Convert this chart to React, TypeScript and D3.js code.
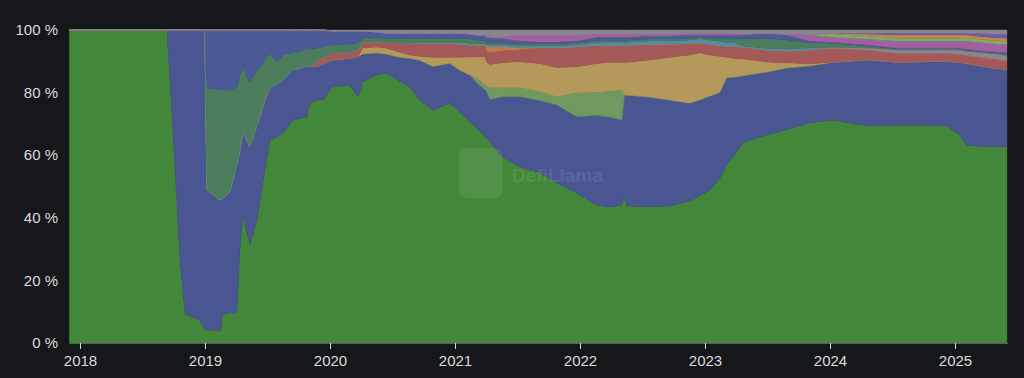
import React from "react";
import * as d3 from "d3";

const dates = [
  "2017-12-01","2018-09-12","2018-10-05","2018-10-20","2018-11-04","2018-12-17","2019-01-01","2019-01-07",
  "2019-02-14","2019-02-23","2019-03-15","2019-04-04","2019-04-13","2019-04-22","2019-05-12","2019-06-02",
  "2019-06-25","2019-07-10","2019-07-30","2019-08-17","2019-09-15","2019-10-26","2019-11-04","2019-11-24",
  "2019-12-12","2020-01-07","2020-02-28","2020-03-23","2020-04-06","2020-05-17","2020-06-15","2020-07-23",
  "2020-08-22","2020-09-20","2020-10-28","2020-12-16","2021-01-15","2021-02-13","2021-03-05","2021-03-29",
  "2021-04-03","2021-04-12","2021-05-20","2021-07-09","2021-09-05","2021-10-25","2021-12-22","2022-02-19",
  "2022-03-29","2022-05-03","2022-05-11","2022-05-17","2022-07-23","2022-09-20","2022-11-17","2022-12-16",
  "2023-01-15","2023-02-13","2023-03-05","2023-03-23","2023-04-21","2023-06-30","2023-08-27","2023-11-03",
  "2024-01-09","2024-04-17","2024-07-22","2024-10-27","2024-12-07","2025-01-14","2025-02-03","2025-04-11",
  "2025-06-01",
];

const green = [100,100,57.5,26.5,9.3,7.3,4.2,4.2,3.8,9.3,9.6,9.6,29.7,40.9,31.3,39.3,55.3,64.9,65.8,67.1,71.2,72.2,76.7,77.6,77.6,81.8,82.4,78.6,83.4,85.6,86.3,83.7,81.8,77.6,74.4,76.7,73.8,70.6,68.7,65.8,65.5,63.9,59.4,56.2,54.3,51.1,47.9,44.1,43.5,44.1,47.3,43.8,43.5,43.8,45.4,47.0,48.9,52.7,56.9,59.4,63.9,66.5,68.1,70.3,71.2,69.3,69.6,69.6,69.3,66.5,63.3,62.9,62.6];
const blue = [0,0,42.5,73.5,90.7,92.7,95.8,44.7,41.9,37.1,38.7,47.9,31.9,27.2,31.3,30.4,22.4,16.6,16.9,16.9,16.0,16.3,11.8,10.9,11.5,8.6,8.6,12.8,8.9,7.0,6.1,7.7,9.3,12.8,14.1,12.8,13.4,15.0,14.4,15.0,14.7,13.7,19.2,22.4,23.0,24.9,24.3,28.8,28.8,27.2,31.9,35.5,35.1,33.9,31.3,30.7,30.0,27.5,28.1,25.6,21.4,20.1,19.8,18.2,18.5,21.1,20.1,20.4,20.8,23.3,26.2,25.6,24.6];
const lightGreen = [0,0,0,0,0,0,0,0,0,0,0,0,0,0,0,0,0,0,0,0,0,0,0,0,0,0,0,0,0,0,0,0,0,0,0,0,0,0,1.6,1.6,1.9,3.8,2.9,2.9,2.9,2.6,7.7,7.3,8.3,9.6,0,0,0,0,0,0,0,0,0,0,0,0,0,0,0,0,0,0,0,0,0,0,0];
const yellow = [0,0,0,0,0,0,0,0,0,0,0,0,0,0,0,0,0,0,0,0,0,0,0,0,0,0,0,0,1.9,1.9,1.9,1.6,1.0,1.3,2.9,1.9,4.2,5.8,6.7,8.9,7.7,7.3,8.0,8.3,8.9,9.3,8.3,9.3,9.3,8.9,10.5,10.5,11.8,13.7,15.3,15.0,13.1,11.5,6.4,6.1,5.4,3.2,1.6,0.6,0,0,0,0,0,0,0,0,0];
const red = [0,0,0,0,0,0,0,0,0,0,0,0,0,0,0,0,0,0,0,0,0,0,0,1.6,1.9,2.2,1.9,2.2,1.9,1.6,1.9,2.9,3.8,4.2,4.5,4.5,4.2,3.8,3.8,3.8,3.2,3.8,3.8,3.8,5.1,6.4,6.4,5.8,5.4,5.4,5.4,5.4,5.1,4.2,3.8,3.2,3.5,3.5,3.5,3.8,3.8,3.8,3.8,4.5,4.5,3.2,2.9,2.6,2.6,2.6,2.6,2.9,2.9];
const orange = [0,0,0,0,0,0,0,0,0,0,0,0,0,0,0,0,0,0,0,0,0,0,0,0,0,0,0,0,0,0,0,0,0,0,0,0,0,0,0,0,1.6,1.9,1.3,0.6,0,0,0,0,0,0,0,0,0,0,0,0,0,0,0,0,0,0,0,0,0,0,0,0,0,0,0,0,0];
const misc = [0,0,0,0,0,0,0,0,0,0,0,0,0,0,0,0,0,0,0,0,0,0,0,0,0,0,0,0,0,0,0,0,0,0,0,0,0,0,0,0,0,0,0,0,0,0,0,0,0,0,0,0,0,0,0,0,0,0,0,0,0,0,0,0,0.3,0.6,1.0,1.0,1.0,1.3,1.3,1.6,1.6];
const teal = [0,0,0,0,0,0,0,0,0,0,0,0,0,0,0,0,0,0,0,0,0,0,0,0,0,0,0,0,0,0,0,0,0,0.3,0.3,0.3,0.6,0.6,0.6,0.3,0.6,0.6,0.6,0.6,0.6,0.6,0.6,1.0,1.0,1.0,1.0,1.0,1.0,1.0,1.0,1.3,1.3,1.3,1.3,1.3,0.3,0.6,0.6,0.6,0,0,0,0,0,0,0,0,0];
const sage = [0,0,0,0,0,0,0,32.6,35.1,34.5,32.6,24.3,24.0,20.1,20.4,17.6,12.8,11.2,7.0,8.0,5.4,5.4,5.4,4.2,3.5,2.6,2.6,2.2,1.3,1.3,1.3,1.6,1.6,1.3,1.3,1.3,1.3,1.3,1.0,1.0,0.6,0.6,0.6,0.6,0.6,0.6,0.6,0.6,0.6,0.6,0.6,0.6,0.6,0.6,0.6,0.6,0.6,1.0,1.3,1.3,2.2,3.2,2.9,1.6,1.3,0.6,0.3,0.3,0.3,0.3,0.3,0.3,0.6];
const blue2 = [0,0,0,0,0,0,0,18.5,19.2,19.2,19.2,18.2,14.4,11.8,16.9,12.8,9.6,7.3,10.2,8.0,7.3,6.1,6.1,5.8,5.4,4.5,4.2,3.8,2.2,1.9,1.6,1.6,1.6,1.6,1.6,1.6,1.6,1.6,1.6,1.6,1.6,1.6,1.3,1.0,0.6,0.6,0.6,1.0,1.0,1.0,1.0,1.0,1.0,1.0,1.0,0.6,1.0,1.0,1.0,1.0,1.3,1.6,1.6,0.6,0.3,0.3,0.3,0.3,0.3,0.3,0.3,0.3,0.3];
const pink = [0,0,0,0,0,0,0,0,0,0,0,0,0,0,0,0,0,0,0,0,0,0,0,0,0,0,0,0,0,0,0,0,0,0,0,0,0,0,0,0.3,0.6,0.3,0.6,1.9,2.2,2.2,1.9,1.0,1.0,1.0,1.0,1.0,0.6,0.6,0.6,0.6,0.6,0.6,0.6,0.6,0.3,0,0.3,1.9,1.6,1.9,2.2,2.2,2.2,2.2,2.6,2.6,2.6];
const lightGreen2 = [0,0,0,0,0,0,0,0,0,0,0,0,0,0,0,0,0,0,0,0,0,0,0,0,0,0,0,0,0,0,0,0,0,0,0,0,0,0,0,0,0,0,0,0,0,0,0,0,0,0,0,0,0,0,0,0,0,0,0,0,0,0,0,0.3,1.0,1.0,1.0,1.0,1.0,1.0,1.0,1.0,1.0];
const amber = [0,0,0,0,0,0,0,0,0,0,0,0,0,0,0,0,0,0,0,0,0,0,0,0,0,0,0,0,0,0,0,0,0,0,0,0,0,0,0,0,0,0,0,0,0,0,0,0,0,0,0,0,0,0,0,0,0,0,0,0,0,0,0,0,0.3,0.6,1.0,1.0,1.0,1.0,1.0,1.0,1.0];
const violet = [0,0,0,0,0,0,0,0,0,0,0,0,0,0,0,0,0,0,0,0,0,0,0,0,0,0,0,0,0,0,0,0,0,0,0,0,0,0,0,0,0,0,0,0,0,0,0,0,0,0,0,0,0,0,0,0,0,0,0,0,0,0,0,0,0,0.3,0.6,0.6,0.6,0.6,0.6,1.0,1.3];
const others = [0,0,0,0,0,0,0,0,0,0,0,0,0,0,0,0,0,0,0,0,0,0,0,0,0,0.3,0.3,0.3,0.3,0.6,1.0,1.0,1.0,1.0,1.0,1.0,1.0,1.3,1.6,1.6,1.9,2.2,2.2,1.6,1.6,1.6,1.6,1.3,1.3,1.3,1.3,1.3,1.3,1.3,1.0,1.0,1.0,1.0,1.0,1.0,1.3,1.0,1.3,1.3,1.0,1.0,1.0,1.0,1.0,1.0,1.0,1.3,1.3];

const seriesNames = ["green","blue","lightGreen","yellow","red","orange","misc","teal","sage","blue2","pink","lightGreen2","amber","violet","others"];
const seriesValues = [green,blue,lightGreen,yellow,red,orange,misc,teal,sage,blue2,pink,lightGreen2,amber,violet,others];
const seriesColors = ["#42873a","#4a5692","#6f995f","#b4995a","#a45858","#c07c48","#8d8590","#4e8fa3","#4b7d5d","#4d5a98","#a35fa3","#7fab68","#c08a4c","#6c5ca6","#8c8494"];

const yTicks = [0, 20, 40, 60, 80, 100];
const xTickYears = [2018, 2019, 2020, 2021, 2022, 2023, 2024, 2025];

const W = 1024, H = 378;
const left = 69.4, right = 1008, top = 30, bottom = 343;

export default function App() {
  const parse = (s: string) => new Date(s + "T00:00:00Z");
  const rows = dates.map((d, i) => {
    const r: any = { date: parse(d) };
    seriesNames.forEach((n, k) => (r[n] = seriesValues[k][i]));
    return r;
  });
  const stacked = d3.stack<any>().keys(seriesNames).offset(d3.stackOffsetExpand)(rows);
  const x = d3.scaleUtc().domain([parse("2017-12-01"), parse("2025-06-04")]).range([left, right]);
  const y = d3.scaleLinear().domain([0, 1]).range([bottom, top]);
  const area = d3.area<any>()
    .x((d) => x(d.data.date))
    .y0((d) => y(d[0]))
    .y1((d) => y(d[1]))
    .curve(d3.curveLinear);
  const font = "'Liberation Sans', Arial, Helvetica, sans-serif";
  return (
    <svg width={W} height={H} style={{ position: "fixed", left: 0, top: 0, background: "#16171a" }}>
      <rect x={0} y={0} width={W} height={H} fill="#16171a" />
      {stacked.map((s, i) => (
        <path key={s.key} d={area(s as any) || ""} fill={seriesColors[i]} stroke={seriesColors[i]} strokeWidth={0.4} />
      ))}
      <g opacity={0.09}>
        <rect x={459} y={148} width={43} height={50} rx={7} fill="#ffffff" />
        <text x={512} y={182} fill="#ffffff" fontFamily={font} fontWeight={700} fontSize={19}>DefiLlama</text>
      </g>
      <line x1={left} x2={right} y1={bottom + 0.5} y2={bottom + 0.5} stroke="#5a5c61" strokeWidth={1} />
      {yTicks.map((t) => (
        <text key={t} x={58} y={y(t / 100)} dy="0.35em" textAnchor="end" fill="#dcdcdc" fontFamily={font} fontSize={15}>
          {t} %
        </text>
      ))}
      {xTickYears.map((yr) => {
        const xx = Math.round(x(new Date(Date.UTC(yr, 0, 1)))) + 0.5;
        return (
          <g key={yr}>
            <line x1={xx} x2={xx} y1={bottom} y2={bottom + 6} stroke="#dcdcdc" strokeWidth={1} />
            <text x={xx} y={366} textAnchor="middle" fill="#dcdcdc" fontFamily={font} fontSize={15}>{yr}</text>
          </g>
        );
      })}
    </svg>
  );
}
